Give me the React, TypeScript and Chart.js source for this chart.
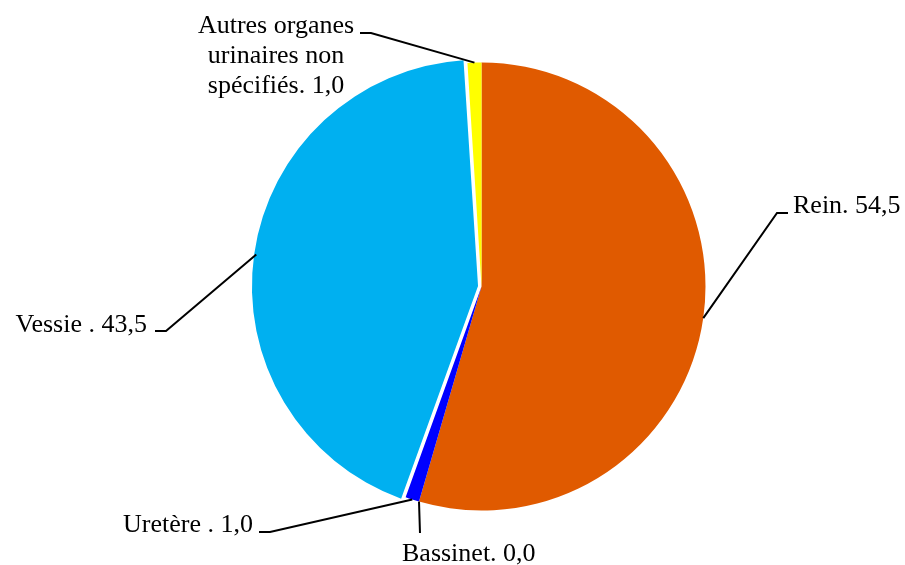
import React, { useEffect, useRef } from "react";
import { Chart, registerables } from "chart.js";

Chart.register(...registerables);

const categories: string[] = [
  "Rein",
  "Bassinet",
  "Uretère ",
  "Vessie ",
  "Autres organes\nurinaires non\nspécifiés",
];
const values: number[] = [54.5, 0.0, 1.0, 43.5, 1.0];
const colors: string[] = ["#E05A00", "#0000FF", "#0000FF", "#00B0F0", "#FFFF00"];
// Chart.js draws an arc shifted by offset / 4 pixels
const offsets: number[] = [0, 0, 0, 14, 0];

// label layout: elbow point, stub end, text anchor (x, first baseline), alignment
type LabelLayout = {
  elbow: [number, number];
  end: [number, number];
  text: [number, number];
  align: CanvasTextAlign;
};
const labelLayout: LabelLayout[] = [
  { elbow: [777, 213], end: [788, 213], text: [793, 213], align: "left" },
  { elbow: [420, 533], end: [420, 533], text: [402, 561], align: "left" },
  { elbow: [270, 532], end: [259, 532], text: [253, 532], align: "right" },
  { elbow: [166, 331], end: [155, 331], text: [147, 332], align: "right" },
  { elbow: [371, 33], end: [360, 33], text: [276, 33], align: "center" },
];

const FONT = '26px "Liberation Serif", "Times New Roman", serif';
const LINE_H = 30;

const fmt = (v: number) => v.toFixed(1).replace(".", ",");

const labelPlugin = {
  id: "leaderLabels",
  afterDraw(chart: any) {
    const ctx: CanvasRenderingContext2D = chart.ctx;
    const meta = chart.getDatasetMeta(0);
    ctx.save();
    ctx.strokeStyle = "#000000";
    ctx.lineWidth = 2;
    ctx.fillStyle = "#000000";
    ctx.font = FONT;
    ctx.textBaseline = "alphabetic";
    meta.data.forEach((arc: any, i: number) => {
      const p = arc.getProps(["x", "y", "startAngle", "endAngle", "outerRadius"], true);
      const mid = (p.startAngle + p.endAngle) / 2;
      const r = p.outerRadius + offsets[i] / 4;
      const ax = p.x + Math.cos(mid) * r;
      const ay = p.y + Math.sin(mid) * r;
      const L = labelLayout[i];
      ctx.beginPath();
      ctx.moveTo(ax, ay);
      ctx.lineTo(L.elbow[0], L.elbow[1]);
      ctx.lineTo(L.end[0], L.end[1]);
      ctx.stroke();
      const text = categories[i] + ". " + fmt(values[i]);
      const lines = text.split("\n");
      ctx.textAlign = L.align;
      lines.forEach((ln, k) => {
        ctx.fillText(ln, L.text[0], L.text[1] + k * LINE_H);
      });
    });
    ctx.restore();
  },
};

export default function App() {
  const canvasRef = useRef<HTMLCanvasElement | null>(null);

  useEffect(() => {
    if (!canvasRef.current) return;
    const chart = new Chart(canvasRef.current, {
      type: "pie",
      data: {
        labels: categories,
        datasets: [
          {
            data: values,
            backgroundColor: colors,
            borderWidth: 0,
            offset: offsets,
          },
        ],
      },
      options: {
        animation: false,
        responsive: false,
        maintainAspectRatio: false,
        radius: 224,
        layout: { padding: { left: 58, right: 0, top: 8, bottom: 0 } },
        plugins: {
          legend: { display: false },
          tooltip: { enabled: false },
        },
      } as any,
      plugins: [labelPlugin],
    });
    return () => chart.destroy();
  }, []);

  return (
    <div style={{ position: "fixed", left: 0, top: 0, width: 905, height: 565, background: "#ffffff" }}>
      <canvas ref={canvasRef} width={905} height={565} style={{ width: 905, height: 565 }} />
    </div>
  );
}
